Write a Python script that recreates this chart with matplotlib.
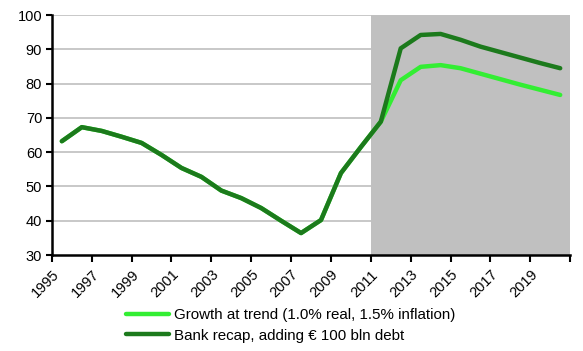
import numpy as np
import matplotlib
matplotlib.use('Agg')
from matplotlib import pyplot as plt

years = np.arange(1995, 2021)
bank_recap = [63.2, 67.3, 66.2, 64.5, 62.7, 59.2, 55.4, 52.8, 48.8, 46.6, 43.7, 40.0, 36.4,
              40.2, 53.9, 61.5, 68.9, 90.3, 94.2, 94.5, 92.8, 90.8, 89.2, 87.6, 86.0, 84.5]
growth_trend = [63.2, 67.3, 66.2, 64.5, 62.7, 59.2, 55.4, 52.8, 48.8, 46.6, 43.7, 40.0, 36.4,
                40.2, 53.9, 61.5, 68.9, 81.0, 84.9, 85.4, 84.5, 82.9, 81.3, 79.7, 78.2, 76.7]
tick_years = np.arange(1995, 2021, 2)

plt.rcParams['font.family'] = ['Liberation Sans', 'DejaVu Sans']

my_dpi = 100
fig = plt.figure(figsize=(583/my_dpi, 351/my_dpi), dpi=my_dpi)
ax = fig.add_axes([0.089, 0.2735, 0.889, 0.6835])

# forecast region shading
ax.axvspan(2011, 2021, color='#c0c0c0', zorder=1, lw=0)
for v in range(40, 101, 10):
    ax.plot([1995, 2011], [v, v], color='#c4c4c4', lw=1.3, zorder=0.5)

x = years + 0.5
ax.plot(x, growth_trend, color='#33ee33', lw=3.2, zorder=3, solid_capstyle='round',
        label='Growth at trend (1.0% real, 1.5% inflation)')
ax.plot(x, bank_recap, color='#1c7a1c', lw=3.2, zorder=4, solid_capstyle='round',
        label='Bank recap, adding € 100 bln debt')

ax.set_xlim(1995, 2021)
ax.set_ylim(30, 100)
ax.set_yticks(range(30, 101, 10))
ax.set_xticks(list(tick_years) + [2021])
ax.set_xticklabels([str(y) for y in tick_years] + [''], rotation=45, ha='right',
                   rotation_mode='anchor', fontsize=10.5)
ax.tick_params(axis='y', labelsize=10.5, length=4, width=1.5, direction='out', pad=3)
ax.tick_params(axis='x', length=5, width=1.5, direction='out', pad=4)
for s in ['top', 'right']:
    ax.spines[s].set_visible(False)
for s in ['left', 'bottom']:
    ax.spines[s].set_linewidth(1.8)
    ax.spines[s].set_zorder(5)

fig.legend(loc='upper left', bbox_to_anchor=(0.205, 0.14), frameon=False, fontsize=10.9,
           handlelength=2.9, handletextpad=0.3, labelspacing=0.45, borderaxespad=0)

plt.savefig('out.png', dpi=my_dpi)
